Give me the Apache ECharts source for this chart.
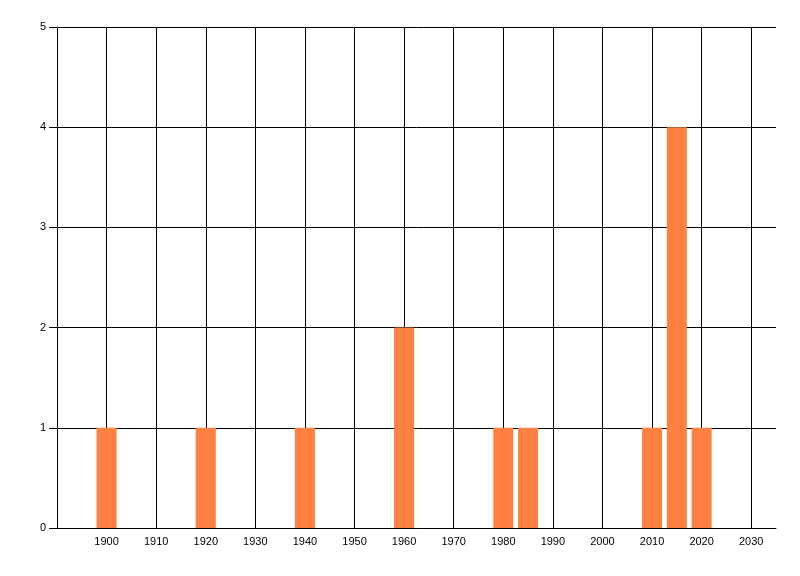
<!DOCTYPE html>
<html>
<head>
<meta charset="utf-8">
<script src="https://cdn.jsdelivr.net/npm/echarts@6/dist/echarts.min.js"></script>
<style>
  html, body { margin: 0; padding: 0; background: #fff; }
  #chart { width: 800px; height: 576px; }
</style>
</head>
<body>
<div id="chart"></div>
<script>
/*数据*/
var years = [1900, 1920, 1940, 1960, 1980, 1985, 2010, 2015, 2020];
var counts = [1, 1, 1, 2, 1, 1, 1, 4, 1];

var xMin = 1890, xMax = 2035, xStep = 10;
var yMin = 0, yMax = 5, yStep = 1;

var barData = [];
for (var i = 0; i < years.length; i++) {
  barData.push([years[i], counts[i]]);
}

var labelFont = {
  color: '#000',
  fontFamily: 'Liberation Sans',
  fontSize: 11
};

var option = {
  animation: false,
  backgroundColor: '#fff',
  grid: {
    left: 57,
    right: 24,
    top: 27,
    bottom: 48,
    containLabel: false
  },
  xAxis: {
    type: 'value',
    min: xMin,
    max: xMax,
    interval: xStep,
    axisLine: { show: true, onZero: false, lineStyle: { color: '#000', width: 1 } },
    axisTick: { show: false },
    axisLabel: Object.assign({
      margin: 8,
      showMinLabel: false,
      showMaxLabel: false,
      formatter: function (v) { return String(v); }
    }, labelFont),
    splitLine: { show: true, showMinLine: false, showMaxLine: false, lineStyle: { color: '#000', width: 1 } }
  },
  yAxis: {
    type: 'value',
    min: yMin,
    max: yMax,
    interval: yStep,
    axisLine: { show: true, lineStyle: { color: '#000', width: 1 } },
    axisTick: { show: true, length: 8, lineStyle: { color: '#000' } },
    axisLabel: Object.assign({ margin: 11 }, labelFont),
    splitLine: { show: true, lineStyle: { color: '#000', width: 1 } }
  },
  series: [{
    type: 'bar',
    data: barData,
    barWidth: 20,
    itemStyle: { color: '#FF8040' }
  }]
};

var chart = echarts.init(document.getElementById('chart'));
chart.setOption(option);
</script>
</body>
</html>
